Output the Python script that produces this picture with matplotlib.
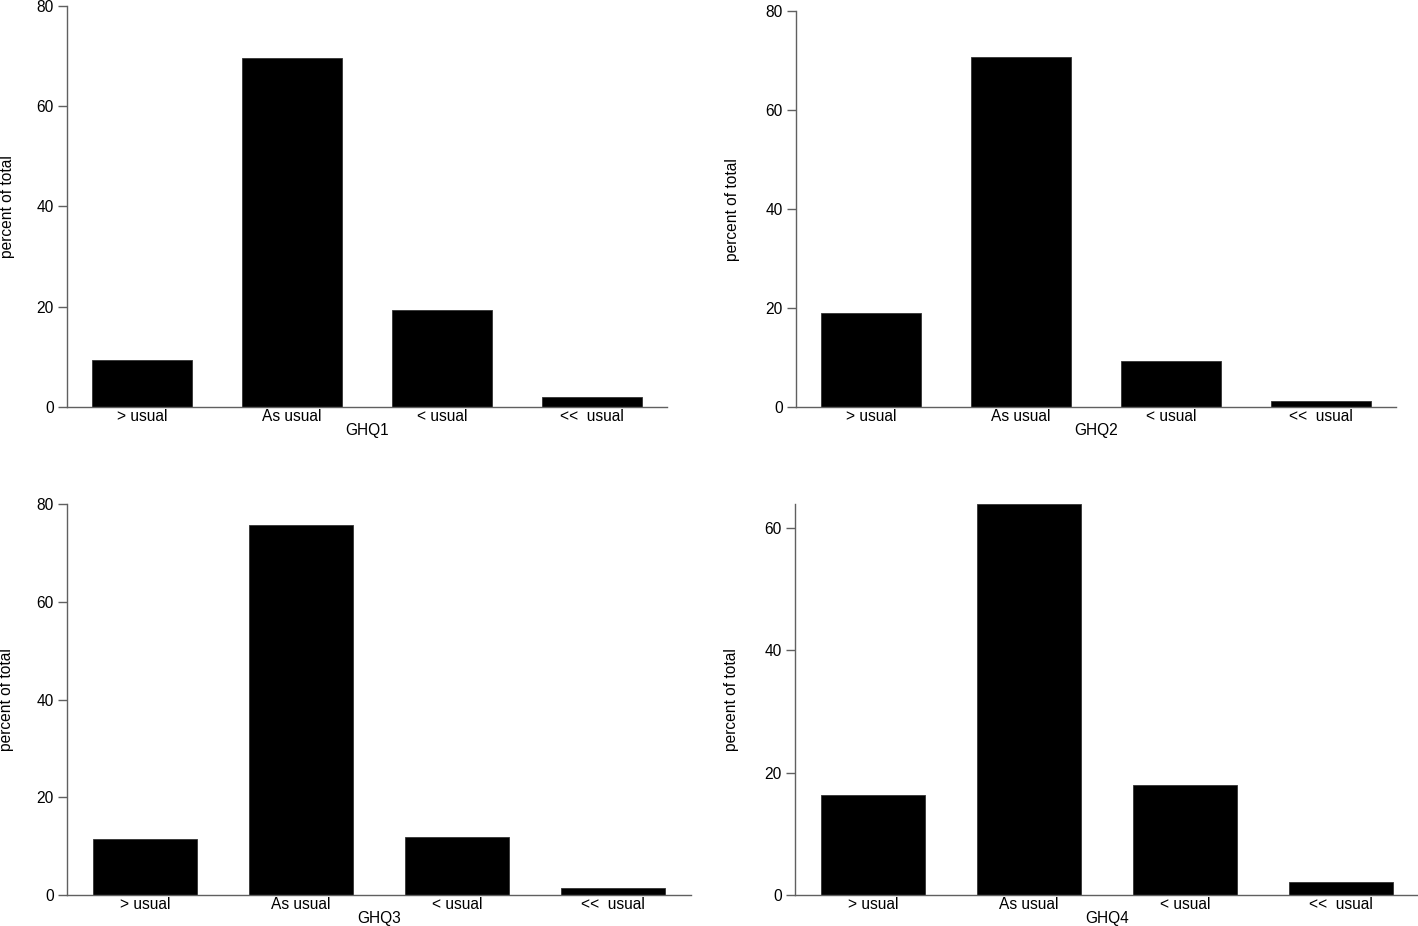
import matplotlib
matplotlib.use('Agg')
import matplotlib.pyplot as plt

plt.rcParams['font.family'] = ['Liberation Sans', 'DejaVu Sans']

categories = ['> usual', 'As usual', '< usual', '<<  usual']
ghq1 = [9.4, 69.7, 19.4, 1.9]
ghq2 = [19.1, 70.7, 9.3, 1.2]
ghq3 = [11.5, 75.7, 11.9, 1.4]
ghq4 = [16.3, 63.9, 18.0, 2.1]
names = ['GHQ1', 'GHQ2', 'GHQ3', 'GHQ4']
yticks = [[0, 20, 40, 60, 80], [0, 20, 40, 60, 80],
          [0, 20, 40, 60, 80], [0, 20, 40, 60]]


def main():
    fig = plt.figure(figsize=(14.18, 9.26), dpi=100)
    # axes boxes in figure fractions (left, bottom, width, height)
    boxes = [[0.0472, 0.5605, 0.4231, 0.4330],
             [0.5613, 0.5605, 0.4231, 0.4273],
             [0.0472, 0.0335, 0.4401, 0.4222],
             [0.5606, 0.0335, 0.4401, 0.4222]]
    ylab_x = [-0.0867, -0.0933, -0.085, -0.0897]
    data = [ghq1, ghq2, ghq3, ghq4]
    gray = '#606060'
    fs = 11.2

    for i, vals in enumerate(data):
        ax = fig.add_axes(boxes[i])
        x = range(len(categories))
        ax.bar(x, vals, width=2 / 3, color='black', edgecolor='#333333',
               linewidth=0.6)
        ax.set_xlim(-0.5, 3.5)
        if i == 3:
            ax.set_ylim(0, max(vals))
        else:
            ax.set_ylim(0, yticks[i][-1])
        ax.set_yticks(yticks[i])
        ax.set_xticks(list(x))
        ax.set_xticklabels(categories)
        for s in ['top', 'right']:
            ax.spines[s].set_visible(False)
        for s in ['left', 'bottom']:
            ax.spines[s].set_color(gray)
            ax.spines[s].set_linewidth(1.0)
        ax.tick_params(axis='y', length=6.5, width=1.0, color=gray,
                       labelsize=fs, pad=3)
        ax.tick_params(axis='x', length=0, labelsize=fs, pad=1.5)
        ax.set_ylabel('percent of total', fontsize=fs)
        ax.yaxis.set_label_coords(ylab_x[i], 0.5)
        ax.set_xlabel(names[i], fontsize=fs)
        hpx = boxes[i][3] * 926
        ax.xaxis.set_label_coords(0.5, -16 / hpx)

    fig.savefig('out.png', dpi=100)


main()
